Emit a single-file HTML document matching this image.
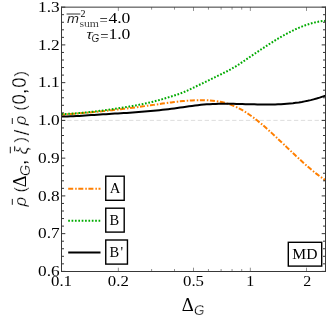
<!DOCTYPE html>
<html><head><meta charset="utf-8"><title>plot</title>
<style>html,body{margin:0;padding:0;background:#fff;}svg{display:block;will-change:transform;}text{fill:#000;}.sc{font-family:"Liberation Sans",sans-serif;stroke:#fff;stroke-width:0.12px;}.sb{font-family:"Liberation Sans",sans-serif;}.se{font-family:"Liberation Serif",serif;}.sa{font-family:"Liberation Sans",sans-serif;stroke:#fff;stroke-width:0.3px;}</style></head><body>
<svg width="332" height="318" viewBox="0 0 332 318">
<rect x="0" y="0" width="332" height="318" fill="#fff"/>
<line x1="61.5" x2="325.5" y1="120.40" y2="120.40" stroke="#d4d4d4" stroke-width="0.8" stroke-dasharray="4.3 2.57" stroke-dashoffset="1.1"/>
<path d="M61.5,114.61 L64.5,114.42 L67.4,114.22 L70.4,114.01 L73.4,113.79 L76.3,113.56 L79.3,113.33 L82.3,113.08 L85.2,112.83 L88.2,112.56 L91.2,112.29 L94.1,112.01 L97.1,111.72 L100.1,111.43 L103.0,111.13 L106.0,110.81 L109.0,110.50 L111.9,110.17 L114.9,109.84 L117.9,109.49 L120.8,109.15 L123.8,108.79 L126.8,108.43 L129.7,108.06 L132.7,107.68 L135.7,107.30 L138.6,106.91 L141.6,106.52 L144.6,106.12 L147.5,105.71 L150.5,105.29 L153.5,104.87 L156.4,104.45 L159.4,104.02 L162.4,103.60 L165.3,103.18 L168.3,102.78 L171.3,102.39 L174.2,102.01 L177.2,101.66 L180.2,101.34 L183.1,101.05 L186.1,100.79 L189.1,100.56 L192.0,100.38 L195.0,100.25 L197.9,100.16 L200.9,100.13 L203.9,100.16 L206.8,100.26 L209.8,100.43 L212.8,100.69 L215.7,101.05 L218.7,101.52 L221.7,102.10 L224.6,102.81 L227.6,103.66 L230.6,104.66 L233.5,105.82 L236.5,107.13 L239.5,108.61 L242.4,110.24 L245.4,112.03 L248.4,113.96 L251.3,116.03 L254.3,118.23 L257.3,120.54 L260.2,122.94 L263.2,125.44 L266.2,128.02 L269.1,130.67 L272.1,133.37 L275.1,136.12 L278.0,138.91 L281.0,141.72 L284.0,144.55 L286.9,147.38 L289.9,150.21 L292.9,153.03 L295.8,155.82 L298.8,158.58 L301.8,161.29 L304.7,163.96 L307.7,166.56 L310.7,169.08 L313.6,171.53 L316.6,173.88 L319.6,176.13 L322.5,178.27 L325.5,180.28" fill="none" stroke="#ff7f00" stroke-width="2" stroke-dasharray="5 1.95 1.5 1.6" stroke-dashoffset="1.5"/>
<path d="M61.5,114.10 L64.5,114.00 L67.4,113.87 L70.4,113.72 L73.4,113.53 L76.3,113.32 L79.3,113.09 L82.3,112.83 L85.2,112.55 L88.2,112.25 L91.2,111.93 L94.1,111.59 L97.1,111.23 L100.1,110.86 L103.0,110.47 L106.0,110.07 L109.0,109.65 L111.9,109.22 L114.9,108.77 L117.9,108.32 L120.8,107.86 L123.8,107.39 L126.8,106.91 L129.7,106.43 L132.7,105.92 L135.7,105.40 L138.6,104.86 L141.6,104.28 L144.6,103.67 L147.5,103.03 L150.5,102.33 L153.5,101.60 L156.4,100.81 L159.4,100.00 L162.4,99.15 L165.3,98.28 L168.3,97.39 L171.3,96.48 L174.2,95.57 L177.2,94.61 L180.2,93.57 L183.1,92.43 L186.1,91.18 L189.1,89.83 L192.0,88.42 L195.0,86.98 L197.9,85.52 L200.9,84.07 L203.9,82.62 L206.8,81.17 L209.8,79.72 L212.8,78.28 L215.7,76.85 L218.7,75.42 L221.7,73.98 L224.6,72.51 L227.6,70.99 L230.6,69.40 L233.5,67.72 L236.5,65.93 L239.5,64.03 L242.4,62.04 L245.4,60.02 L248.4,58.00 L251.3,55.99 L254.3,53.99 L257.3,51.99 L260.2,50.01 L263.2,48.04 L266.2,46.10 L269.1,44.18 L272.1,42.30 L275.1,40.46 L278.0,38.66 L281.0,36.91 L284.0,35.22 L286.9,33.60 L289.9,32.04 L292.9,30.55 L295.8,29.15 L298.8,27.83 L301.8,26.61 L304.7,25.48 L307.7,24.46 L310.7,23.54 L313.6,22.74 L316.6,22.07 L319.6,21.51 L322.5,21.09 L325.5,20.81" fill="none" stroke="#00aa00" stroke-width="2" stroke-dasharray="1.7 1.67"/>
<path d="M61.5,116.50 L64.5,116.48 L67.4,116.42 L70.4,116.32 L73.4,116.21 L76.3,116.06 L79.3,115.90 L82.3,115.72 L85.2,115.53 L88.2,115.33 L91.2,115.12 L94.1,114.92 L97.1,114.71 L100.1,114.51 L103.0,114.32 L106.0,114.14 L109.0,113.96 L111.9,113.79 L114.9,113.61 L117.9,113.44 L120.8,113.27 L123.8,113.09 L126.8,112.91 L129.7,112.72 L132.7,112.52 L135.7,112.31 L138.6,112.09 L141.6,111.86 L144.6,111.61 L147.5,111.35 L150.5,111.08 L153.5,110.79 L156.4,110.49 L159.4,110.18 L162.4,109.86 L165.3,109.52 L168.3,109.16 L171.3,108.80 L174.2,108.42 L177.2,108.02 L180.2,107.61 L183.1,107.19 L186.1,106.76 L189.1,106.33 L192.0,105.92 L195.0,105.53 L197.9,105.18 L200.9,104.86 L203.9,104.59 L206.8,104.36 L209.8,104.18 L212.8,104.04 L215.7,103.93 L218.7,103.86 L221.7,103.81 L224.6,103.80 L227.6,103.80 L230.6,103.83 L233.5,103.87 L236.5,103.93 L239.5,103.99 L242.4,104.07 L245.4,104.14 L248.4,104.22 L251.3,104.29 L254.3,104.36 L257.3,104.42 L260.2,104.47 L263.2,104.50 L266.2,104.51 L269.1,104.49 L272.1,104.45 L275.1,104.39 L278.0,104.29 L281.0,104.15 L284.0,103.98 L286.9,103.76 L289.9,103.50 L292.9,103.19 L295.8,102.82 L298.8,102.41 L301.8,101.93 L304.7,101.39 L307.7,100.79 L310.7,100.11 L313.6,99.37 L316.6,98.55 L319.6,97.65 L322.5,96.67 L325.5,95.61" fill="none" stroke="#000" stroke-width="2"/>
<path d="M61.5,271.40h3.8M325.5,271.40h-3.8M61.5,263.85h2.5M325.5,263.85h-2.5M61.5,256.30h2.5M325.5,256.30h-2.5M61.5,248.75h2.5M325.5,248.75h-2.5M61.5,241.20h2.5M325.5,241.20h-2.5M61.5,233.65h3.8M325.5,233.65h-3.8M61.5,226.10h2.5M325.5,226.10h-2.5M61.5,218.55h2.5M325.5,218.55h-2.5M61.5,211.00h2.5M325.5,211.00h-2.5M61.5,203.45h2.5M325.5,203.45h-2.5M61.5,195.90h3.8M325.5,195.90h-3.8M61.5,188.35h2.5M325.5,188.35h-2.5M61.5,180.80h2.5M325.5,180.80h-2.5M61.5,173.25h2.5M325.5,173.25h-2.5M61.5,165.70h2.5M325.5,165.70h-2.5M61.5,158.15h3.8M325.5,158.15h-3.8M61.5,150.60h2.5M325.5,150.60h-2.5M61.5,143.05h2.5M325.5,143.05h-2.5M61.5,135.50h2.5M325.5,135.50h-2.5M61.5,127.95h2.5M325.5,127.95h-2.5M61.5,120.40h3.8M325.5,120.40h-3.8M61.5,112.85h2.5M325.5,112.85h-2.5M61.5,105.30h2.5M325.5,105.30h-2.5M61.5,97.75h2.5M325.5,97.75h-2.5M61.5,90.20h2.5M325.5,90.20h-2.5M61.5,82.65h3.8M325.5,82.65h-3.8M61.5,75.10h2.5M325.5,75.10h-2.5M61.5,67.55h2.5M325.5,67.55h-2.5M61.5,60.00h2.5M325.5,60.00h-2.5M61.5,52.45h2.5M325.5,52.45h-2.5M61.5,44.90h3.8M325.5,44.90h-3.8M61.5,37.35h2.5M325.5,37.35h-2.5M61.5,29.80h2.5M325.5,29.80h-2.5M61.5,22.25h2.5M325.5,22.25h-2.5M61.5,14.70h2.5M325.5,14.70h-2.5M61.5,7.15h3.8M325.5,7.15h-3.8" stroke="#000" stroke-width="0.8" fill="none"/>
<path d="M61.50,271.5v-3.8M61.50,7.15v3.8M118.35,271.5v-3.8M118.35,7.15v3.8M151.60,271.5v-2.5M151.60,7.15v2.5M174.50,271.5v-2.5M174.50,7.15v2.5M193.50,271.5v-3.8M193.50,7.15v3.8M208.45,271.5v-2.5M208.45,7.15v2.5M221.10,271.5v-2.5M221.10,7.15v2.5M232.05,271.5v-2.5M232.05,7.15v2.5M241.71,271.5v-2.5M241.71,7.15v2.5M250.35,271.5v-3.8M250.35,7.15v3.8M306.50,271.5v-3.8M306.50,7.15v3.8" stroke="#333" stroke-width="0.55" fill="none"/>
<path d="M61.5,6.65V272M325.5,6.65V272M61,271.5H326M61,7.15H326" fill="none" stroke="#383838" stroke-width="1"/>
<text class="se" x="59.6" y="276.0" font-size="15" text-anchor="end" textLength="21.6" lengthAdjust="spacingAndGlyphs">0.6</text>
<text class="se" x="59.6" y="238.3" font-size="15" text-anchor="end" textLength="21.6" lengthAdjust="spacingAndGlyphs">0.7</text>
<text class="se" x="59.6" y="200.5" font-size="15" text-anchor="end" textLength="21.6" lengthAdjust="spacingAndGlyphs">0.8</text>
<text class="se" x="59.6" y="162.8" font-size="15" text-anchor="end" textLength="21.6" lengthAdjust="spacingAndGlyphs">0.9</text>
<text class="se" x="59.6" y="125.0" font-size="15" text-anchor="end" textLength="21.6" lengthAdjust="spacingAndGlyphs">1.0</text>
<text class="se" x="59.6" y="87.2" font-size="15" text-anchor="end" textLength="21.6" lengthAdjust="spacingAndGlyphs">1.1</text>
<text class="se" x="59.6" y="49.5" font-size="15" text-anchor="end" textLength="21.6" lengthAdjust="spacingAndGlyphs">1.2</text>
<text class="se" x="59.6" y="11.8" font-size="15" text-anchor="end" textLength="21.6" lengthAdjust="spacingAndGlyphs">1.3</text>
<text class="se" x="61.5" y="285.9" font-size="15" text-anchor="middle" textLength="21" lengthAdjust="spacingAndGlyphs">0.1</text>
<text class="se" x="118.3" y="285.9" font-size="15" text-anchor="middle" textLength="21" lengthAdjust="spacingAndGlyphs">0.2</text>
<text class="se" x="193.5" y="285.9" font-size="15" text-anchor="middle" textLength="21" lengthAdjust="spacingAndGlyphs">0.5</text>
<text class="se" x="250.3" y="285.9" font-size="15" text-anchor="middle" textLength="8" lengthAdjust="spacingAndGlyphs">1</text>
<text class="se" x="307.2" y="285.9" font-size="15" text-anchor="middle" textLength="8" lengthAdjust="spacingAndGlyphs">2</text>
<line x1="68.2" x2="100.5" y1="188.7" y2="188.7" stroke="#ff7f00" stroke-width="2" stroke-dasharray="5 2 1.5 1.6"/>
<line x1="68.2" x2="100.5" y1="220.8" y2="220.8" stroke="#00aa00" stroke-width="2" stroke-dasharray="1.7 1.67"/>
<line x1="68.2" x2="100.5" y1="252.4" y2="252.4" stroke="#000" stroke-width="2"/>
<rect x="105.75" y="176.2" width="18.45" height="24.10" fill="#fff" stroke="#000" stroke-width="1.4"/>
<rect x="105.75" y="208.2" width="18.45" height="23.90" fill="#fff" stroke="#000" stroke-width="1.4"/>
<rect x="105.75" y="240.0" width="21.70" height="24.10" fill="#fff" stroke="#000" stroke-width="1.4"/>
<text class="se" x="115" y="193.0" font-size="14.7" text-anchor="middle">A</text>
<text class="se" x="114.4" y="224.8" font-size="14.5" text-anchor="middle">B</text>
<text class="se" x="114.4" y="256.6" font-size="14.5" text-anchor="middle">B</text>
<text class="se" x="120.4" y="256.6" font-size="14.5">'</text>
<rect x="288.3" y="242.3" width="33.40" height="23.80" fill="#fff" stroke="#000" stroke-width="1.4"/>
<text class="se" x="304.9" y="258.9" font-size="14.7" text-anchor="middle" textLength="25.2" lengthAdjust="spacingAndGlyphs">MD</text>
<line x1="66.6" x2="80.3" y1="14.0" y2="14.0" stroke="#000" stroke-width="0.8"/>
<text class="sc" x="66.9" y="22.9" font-size="13" font-style="italic" textLength="12" lengthAdjust="spacingAndGlyphs">m</text>
<text class="se" x="80.6" y="16.9" font-size="9.6" textLength="5" lengthAdjust="spacingAndGlyphs">2</text>
<text class="se" stroke="#fff" stroke-width="0.15" x="79.4" y="27.0" font-size="10.5" textLength="19.6" lengthAdjust="spacingAndGlyphs">sum</text>
<text class="se" x="99.6" y="24.8" font-size="14.7">=</text>
<text class="se" x="108.4" y="23.1" font-size="14.7" textLength="22" lengthAdjust="spacingAndGlyphs">4.0</text>
<text class="sc" x="86.3" y="39.2" font-size="13" font-style="italic" textLength="6.2" lengthAdjust="spacingAndGlyphs">τ</text>
<text class="sc" x="91.6" y="42.0" font-size="10" font-style="italic">G</text>
<text class="se" x="100.2" y="41.1" font-size="14.7">=</text>
<text class="se" x="108.4" y="39.3" font-size="14.7" textLength="22" lengthAdjust="spacingAndGlyphs">1.0</text>
<text class="se" x="181.8" y="311.1" font-size="19.0" textLength="12" lengthAdjust="spacingAndGlyphs">Δ</text>
<text class="sa" x="194.0" y="315.4" font-size="14.3" font-style="italic" textLength="10.4" lengthAdjust="spacingAndGlyphs">G</text>
<g transform="translate(26.4,0) rotate(-90)">
<text class="sa" x="-206.6" y="0" font-size="16.4" font-style="italic" textLength="9.6" lengthAdjust="spacingAndGlyphs">ρ</text>
<text class="sa" x="-192.5" y="0" font-size="16.4">(</text>
<text class="se" x="-187.2" y="0" font-size="18.3">Δ</text>
<text class="sa" x="-176.0" y="3.8" font-size="14.3" font-style="italic">G</text>
<text class="sb" x="-164.9" y="0" font-size="19">,</text>
<text class="sa" x="-154.6" y="0.5" font-size="18" font-style="italic">ξ</text>
<text class="sa" x="-142.5" y="0" font-size="16.4">)</text>
<text class="sa" x="-135.6" y="2.6" font-size="21">/</text>
<text class="sa" x="-125.2" y="0" font-size="16.4" font-style="italic" textLength="9.6" lengthAdjust="spacingAndGlyphs">ρ</text>
<text class="sa" x="-110.8" y="0" font-size="16.4">(</text>
<text class="sa" x="-104.6" y="0" font-size="20.3" textLength="10.3" lengthAdjust="spacingAndGlyphs">0</text>
<text class="sb" x="-94.1" y="0" font-size="19">,</text>
<text class="sa" x="-87.7" y="0" font-size="20.3" textLength="10.3" lengthAdjust="spacingAndGlyphs">0</text>
<text class="sa" x="-76.6" y="0" font-size="16.4">)</text>
</g>
<path d="M12.3,198.9V204.8M12.3,118.1V124M10.3,146.8V153.3" stroke="#000" stroke-width="0.9" fill="none"/>
</svg></body></html>
